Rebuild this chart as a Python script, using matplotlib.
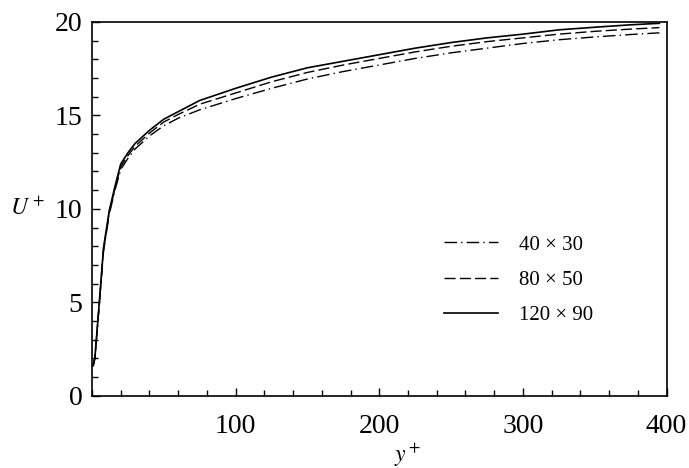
import matplotlib
matplotlib.use("Agg")
import matplotlib.pyplot as plt
from matplotlib.ticker import MultipleLocator

plt.rcParams["font.family"] = ["Liberation Serif", "DejaVu Serif"]
plt.rcParams["mathtext.fontset"] = "stix"

# y+ stations
y_plus = [0.8, 2, 5, 8, 12, 16, 20, 25, 30, 40, 50, 60, 75, 100, 125, 150,
          175, 200, 225, 250, 275, 300, 325, 350, 375, 395]

# U+ for each grid
u_40x30 = [1.6, 2.0, 4.8, 7.7, 9.7, 11.0, 12.1, 12.7, 13.2, 13.9, 14.45, 14.85,
           15.3, 15.9, 16.45, 16.95, 17.35, 17.7, 18.05, 18.35, 18.6, 18.85,
           19.05, 19.2, 19.33, 19.42]
u_80x50 = [1.6, 2.0, 4.85, 7.8, 9.8, 11.1, 12.25, 12.85, 13.35, 14.05, 14.65,
           15.05, 15.6, 16.2, 16.8, 17.3, 17.7, 18.05, 18.4, 18.7, 18.95,
           19.15, 19.35, 19.5, 19.62, 19.7]
u_120x90 = [1.6, 2.0, 4.9, 7.9, 9.9, 11.2, 12.4, 13.0, 13.5, 14.2, 14.8, 15.2,
            15.8, 16.45, 17.05, 17.55, 17.9, 18.25, 18.6, 18.9, 19.15, 19.35,
            19.58, 19.72, 19.85, 19.93]

labels = ["40 × 30", "80 × 50", "120 × 90"]

fig = plt.figure(figsize=(6.89, 4.68), dpi=100)
ax = fig.add_axes([0.1335, 0.1545, 0.834, 0.7985])

ax.plot(y_plus, u_40x30, color="black", lw=1.0, linestyle=(0, (9, 3, 1, 3)),
        label=labels[0])
ax.plot(y_plus, u_80x50, color="black", lw=1.0, linestyle=(0, (8, 3)),
        label=labels[1])
ax.plot(y_plus, u_120x90, color="black", lw=1.2, linestyle="-",
        label=labels[2])

ax.set_xlim(0, 400)
ax.set_ylim(0, 20)
ax.set_xticks([100, 200, 300, 400])
ax.set_yticks([0, 5, 10, 15, 20])
ax.xaxis.set_minor_locator(MultipleLocator(20))
ax.yaxis.set_minor_locator(MultipleLocator(1))
ax.tick_params(which="both", direction="in", top=False, right=False,
               labelsize=20, width=1.0)
ax.tick_params(which="major", length=6)
ax.tick_params(which="minor", length=4)
ax.tick_params(axis="x", pad=13)
ax.tick_params(axis="y", pad=7)
for s in ax.spines.values():
    s.set_linewidth(1.2)

ax.set_xlabel("$y^+$", fontsize=17)
ax.xaxis.set_label_coords(0.55, -0.122)
ax.set_ylabel("$U^+$", fontsize=17, rotation=0, va="center")
ax.yaxis.set_label_coords(-0.112, 0.5)

ax.legend(loc="upper left", bbox_to_anchor=(0.58, 0.48), frameon=False,
          fontsize=15, handlelength=2.6, handletextpad=1.0, labelspacing=0.75)

fig.savefig("out.png", dpi=100)
